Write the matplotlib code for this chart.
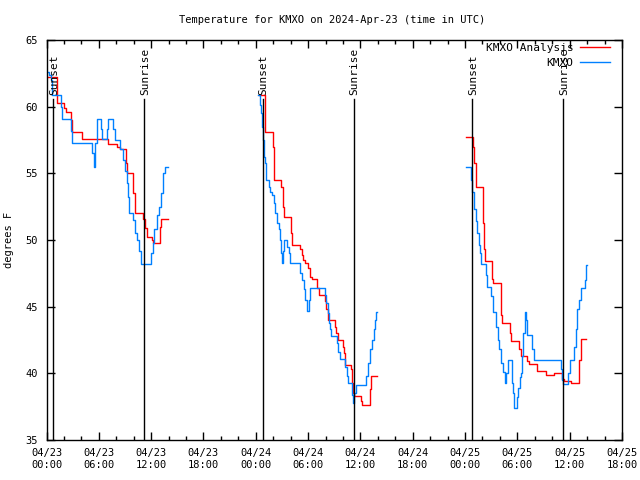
import matplotlib
matplotlib.use('Agg')
import matplotlib.pyplot as plt
import matplotlib.transforms as mtrans
from matplotlib.lines import Line2D
from datetime import datetime, timedelta

# time in hours after 2024-04-23 00:00 UTC, value holds until next time (step)
obs1_t = [0.21, 0.32, 0.48, 0.60, 0.67, 1.66, 1.78, 2.81, 2.93, 5.22, 5.40, 5.57, 5.74, 6.26, 6.37,
          6.95, 7.06, 7.63, 7.86, 8.44, 8.78, 9.01, 9.24, 9.36, 9.47, 9.93, 10.16, 10.39, 10.62,
          10.79, 12.00, 12.17, 12.34, 12.69, 12.86, 13.15, 13.38, 13.55, 13.95]
obs1_v = [62.6, 62.4, 62.0, 61.2, 60.9, 60.0, 59.1, 58.2, 57.3, 56.5, 55.5, 57.3, 59.1, 58.3, 57.6,
          58.3, 59.1, 58.3, 57.5, 56.8, 56.0, 55.2, 54.3, 53.2, 52.0, 51.5, 50.5, 50.0, 49.2,
          48.2, 49.0, 49.8, 50.8, 51.9, 52.5, 53.5, 55.0, 55.5, 55.5]
ana1_t = [0.21, 1.15, 1.24, 2.01, 2.18, 2.81, 2.89, 4.08, 7.06, 8.09, 8.44, 9.13, 9.24, 9.87,
          10.10, 11.08, 11.31, 11.50, 12.08, 12.26, 13.03, 13.15, 13.92]
ana1_v = [62.2, 61.0, 60.3, 59.9, 59.6, 59.0, 58.1, 57.6, 57.2, 57.0, 56.8, 55.8, 55.0, 53.5,
          52.0, 51.6, 50.9, 50.2, 50.0, 49.8, 51.0, 51.6, 51.6]

obs2_t = [24.20, 24.43, 24.59, 24.71, 24.82, 24.97, 25.09, 25.20, 25.47, 25.58, 25.86, 26.04,
          26.23, 26.43, 26.61, 26.81, 26.89, 26.96, 27.10, 27.19, 27.61, 27.76, 27.88, 29.10,
          29.30, 29.48, 29.68, 29.87, 30.06, 30.25, 31.98, 32.09, 32.24, 32.35, 32.55, 32.63,
          33.32, 33.47, 33.62, 34.27, 34.47, 34.58, 35.04, 35.15, 35.30, 35.50, 36.68, 36.83,
          37.14, 37.34, 37.52, 37.72, 37.83, 37.91]
obs2_v = [60.9, 60.1, 59.5, 58.5, 57.5, 56.2, 55.8, 54.5, 54.0, 53.6, 53.4, 52.8,
          52.0, 51.3, 50.8, 50.0, 49.0, 48.3, 49.2, 50.0, 49.5, 49.0, 48.3, 47.5,
          47.0, 46.3, 45.5, 44.7, 45.5, 46.4, 45.9, 45.3, 44.5, 43.8, 43.3, 42.8,
          42.3, 41.6, 41.1, 40.5, 39.8, 39.3, 38.4, 37.8, 38.5, 39.1, 39.8, 40.8,
          41.8, 42.5, 43.3, 44.0, 44.6, 44.6]
ana2_t = [24.32, 25.09, 25.93, 26.12, 26.92, 27.12, 27.19, 28.01, 28.19, 29.05, 29.28, 29.45,
          29.68, 29.94, 30.17, 30.45, 31.02, 31.20, 31.98, 32.09, 32.24, 33.04, 33.20, 33.39,
          33.96, 34.07, 34.19, 34.27, 34.92, 35.04, 35.15, 35.22, 36.07, 36.22, 37.06, 37.22, 37.91]
ana2_v = [60.9, 58.1, 57.0, 54.5, 54.0, 52.5, 51.7, 50.5, 49.6, 49.3, 48.9, 48.5,
          48.3, 47.9, 47.2, 47.1, 46.4, 45.9, 45.4, 44.8, 44.0, 43.5, 43.0, 42.5,
          42.0, 41.5, 41.0, 40.6, 40.3, 39.3, 38.5, 38.3, 37.9, 37.6, 38.8, 39.8, 39.8]

obs3_t = [48.16, 48.70, 48.82, 49.00, 49.20, 49.39, 49.58, 49.69, 49.85, 50.38, 50.54, 51.03,
          51.18, 51.57, 51.76, 51.95, 52.15, 52.33, 52.53, 52.72, 52.91, 53.33, 53.48, 53.59,
          53.98, 54.13, 54.25, 54.36, 54.48, 54.63, 54.82, 54.94, 55.13, 55.71, 55.89, 58.96,
          59.15, 59.27, 59.80, 59.98, 60.49, 60.68, 60.87, 61.06, 61.25, 61.75, 61.91, 61.95]
obs3_v = [55.5, 54.5, 53.6, 52.3, 51.4, 50.5, 49.6, 49.0, 48.2, 47.4, 46.5, 45.8,
          44.6, 43.5, 42.5, 41.8, 40.8, 40.1, 39.3, 40.0, 41.0, 39.3, 38.5, 37.4,
          38.2, 38.9, 39.7, 40.0, 41.3, 43.0, 44.6, 44.0, 42.9, 41.8, 41.0, 40.3,
          39.5, 39.2, 40.0, 41.0, 42.0, 43.3, 44.8, 45.5, 46.4, 47.0, 48.1, 48.1]
ana3_t = [48.16, 48.93, 49.08, 49.20, 50.08, 50.23, 50.34, 51.11, 51.23, 52.07, 52.15, 52.26,
          53.13, 53.30, 54.17, 54.36, 55.13, 55.32, 56.28, 57.23, 58.19, 59.07, 59.33, 60.10,
          61.10, 61.25, 61.83]
ana3_v = [57.7, 57.0, 55.8, 54.0, 51.3, 49.3, 48.4, 47.1, 46.8, 45.3, 44.4, 43.8,
          43.0, 42.4, 41.8, 41.3, 40.9, 40.7, 40.2, 39.9, 40.0, 39.6, 39.4, 39.3,
          41.0, 42.6, 42.6]

sunset = [0.75, 24.78, 48.85]
sunrise = [11.22, 35.22, 59.22]

plt.rcParams['font.family'] = 'DejaVu Sans Mono'
plt.rcParams['font.size'] = 7.5

fig = plt.figure(figsize=(6.4, 4.8), dpi=100)
ax = fig.add_axes([46.5/640, 40/480, 575.5/640, 400/480])

red = '#ff0000'
blue = '#0080ff'
for t, v in [(ana1_t, ana1_v), (ana2_t, ana2_v), (ana3_t, ana3_v)]:
    ax.step(t, v, where='post', color=red, lw=1.0)
for t, v in [(obs1_t, obs1_v), (obs2_t, obs2_v), (obs3_t, obs3_v)]:
    ax.step(t, v, where='post', color=blue, lw=1.0)

# sunset / sunrise markers
trans = mtrans.blended_transform_factory(ax.transData, ax.transAxes)
for s in sunset:
    ax.axvline(s, ymax=0.8525, color='black', lw=1.0)
    ax.text(s + 0.1, 0.862, 'Sunset', rotation=90, ha='center', va='bottom', transform=trans, fontsize=8)
for s in sunrise:
    ax.axvline(s, ymax=0.8525, color='black', lw=1.0)
    ax.text(s + 0.1, 0.862, 'Sunrise', rotation=90, ha='center', va='bottom', transform=trans, fontsize=8)

ax.set_xlim(0, 66)
ax.set_ylim(35, 65)
base = datetime(2024, 4, 23)
xt = list(range(0, 67, 6))
ax.set_xticks(xt)
ax.set_xticklabels([(base + timedelta(hours=h)).strftime('%m/%d\n%H:%M') for h in xt])
ax.set_xticks(list(range(0, 67, 2)), minor=True)
ax.set_yticks(range(35, 66, 5))
ax.tick_params(direction='in', top=True, right=True, length=6, width=1, pad=6)
ax.tick_params(which='minor', direction='in', top=True, length=3, width=1)
for sp in ax.spines.values():
    sp.set_linewidth(1.0)

ax.set_ylabel('degrees F')
ax.yaxis.set_label_coords(-32/575, 0.5)

fig.text(332/640, 1 - 20/480, 'Temperature for KMXO on 2024-Apr-23 (time in UTC)',
         ha='center', va='center')

handles = [Line2D([], [], color=red, lw=1.0), Line2D([], [], color=blue, lw=1.0)]
ax.legend(handles, ['KMXO Analysis', 'KMXO'], loc='upper right', frameon=False, markerfirst=False,
          bbox_to_anchor=((610-46.5)/575.5, (440-43)/400), borderaxespad=0, borderpad=0,
          handlelength=2.7, handletextpad=0.6, labelspacing=0.45, fontsize=8)

fig.savefig('out.png', dpi=100)
